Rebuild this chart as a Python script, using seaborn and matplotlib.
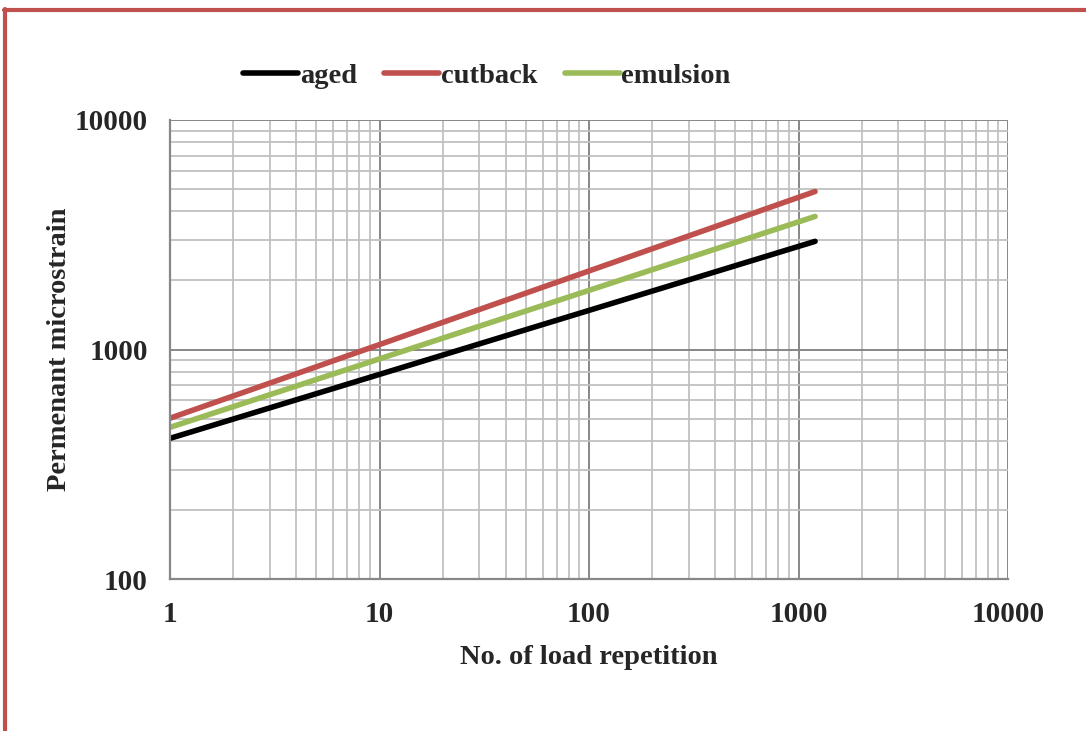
import matplotlib.pyplot as plt
import matplotlib.lines as mlines
import matplotlib.ticker as mticker
import pandas as pd
import seaborn as sns

# endpoints of each fitted line
repetitions = [1, 1200]
aged = [410, 2960]
cutback = [502, 4880]
emulsion = [458, 3800]

series = ['aged', 'cutback', 'emulsion']
colors = ['#000000', '#C0504D', '#9BBB59']

df = pd.DataFrame({
    'N': repetitions * 3,
    'strain': aged + cutback + emulsion,
    'mix': [s for s in series for _ in repetitions],
})

sns.set_style('white')
plt.rcParams['font.family'] = ['Liberation Serif', 'DejaVu Serif']
plt.rcParams['font.weight'] = 'bold'

fig = plt.figure(figsize=(10.86, 7.31), dpi=100)
ax = fig.add_axes([170 / 1086, 1 - 579 / 731, 838 / 1086, 459 / 731])

sns.lineplot(data=df, x='N', y='strain', hue='mix', palette=colors,
             linewidth=4, solid_capstyle='round', ax=ax)

ax.set_xscale('log')
ax.set_yscale('log')
ax.set_xlim(1, 10000)
ax.set_ylim(100, 10000)

ax.xaxis.set_major_locator(mticker.FixedLocator([1, 10, 100, 1000, 10000]))
ax.yaxis.set_major_locator(mticker.FixedLocator([100, 1000, 10000]))
ax.xaxis.set_major_formatter(mticker.FuncFormatter(lambda v, p: f'{v:g}'))
ax.yaxis.set_major_formatter(mticker.FuncFormatter(lambda v, p: f'{v:g}'))
ax.xaxis.set_minor_formatter(mticker.NullFormatter())
ax.yaxis.set_minor_formatter(mticker.NullFormatter())

ax.grid(which='major', color='#878787', linewidth=1.4)
ax.grid(which='minor', color='#c0c0c0', linewidth=1.3)
ax.set_axisbelow(True)

for side in ['top', 'right']:
    ax.spines[side].set_visible(False)
for side in ['left', 'bottom']:
    ax.spines[side].set_color('#878787')
    ax.spines[side].set_linewidth(1.6)

ax.tick_params(which='major', direction='out', length=6, width=1.3,
               color='#878787', labelsize=21, pad=10)
ax.tick_params(which='minor', length=0)
for lab in ax.get_xticklabels() + ax.get_yticklabels():
    lab.set_fontweight('bold')

ax.set_xlabel('No. of load repetition', fontsize=20.5, fontweight='bold', labelpad=12)
ax.set_ylabel('Permenant microstrain', fontsize=20.5, fontweight='bold', labelpad=2)

leg = ax.legend(loc='center', bbox_to_anchor=(0.378, 1.096), ncol=3,
                frameon=False, fontsize=20.5, handlelength=1.95,
                handletextpad=0.05, columnspacing=0.95, borderaxespad=0)
for t in leg.get_texts():
    t.set_fontweight('bold')
for h in leg.get_lines():
    h.set_linewidth(4)

# red frame on the left and top edges
red = '#C0504D'
fig.add_artist(mlines.Line2D([5 / 1086, 5 / 1086], [0, 1 - 9 / 731],
                             transform=fig.transFigure, color=red, linewidth=3))
fig.add_artist(mlines.Line2D([4 / 1086, 1], [1 - 9.5 / 731, 1 - 9.5 / 731],
                             transform=fig.transFigure, color=red, linewidth=3))

plt.savefig('out.png', dpi=100)
